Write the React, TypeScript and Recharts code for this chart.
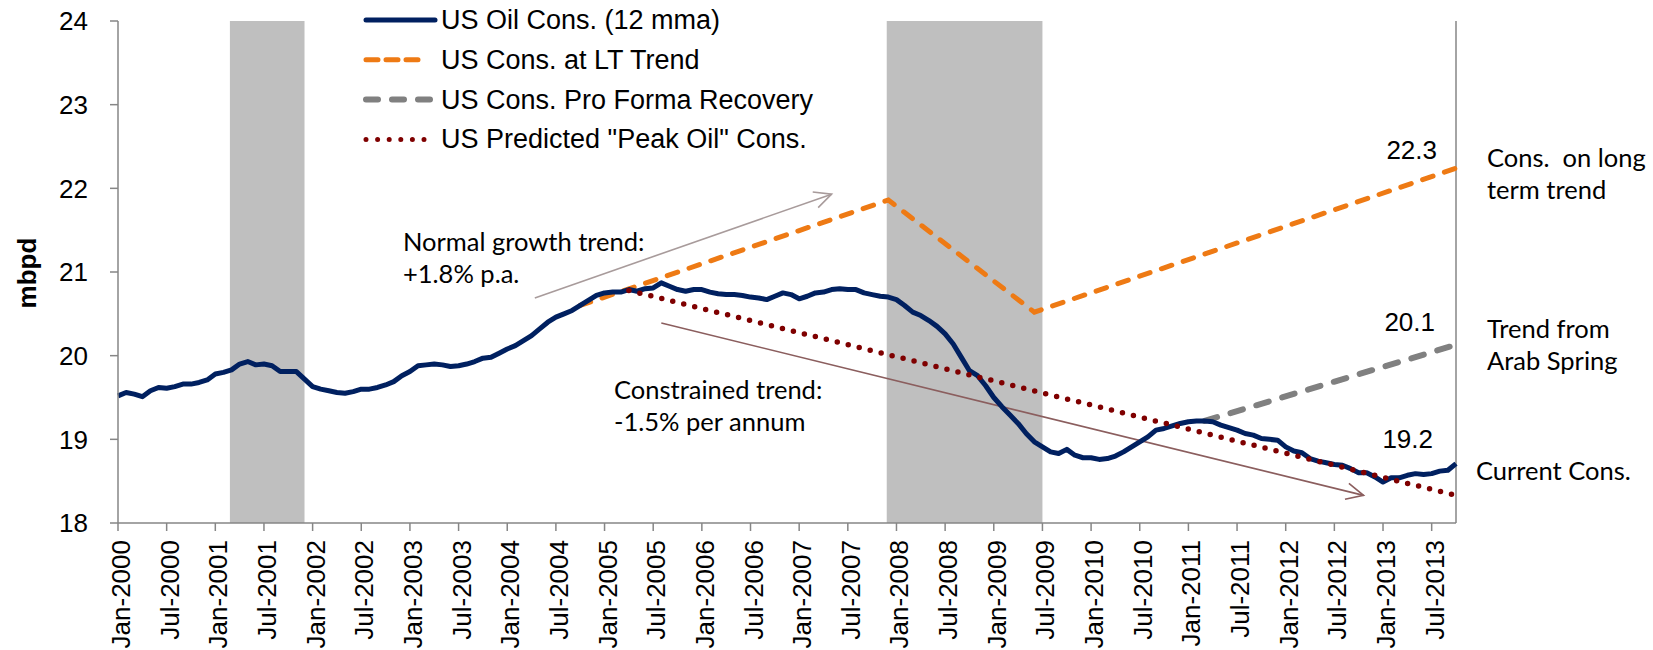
import { LineChart, Line, XAxis, YAxis, ReferenceArea, ReferenceLine, Legend } from "recharts";

// monthly US oil consumption, 12 month moving average, Jan-2000 .. Oct-2013 (mbpd)
const oilCons = [
  19.52, 19.56, 19.54, 19.51, 19.58, 19.62, 19.61, 19.63, 19.66, 19.66, 19.68, 19.71,
  19.78, 19.8, 19.83, 19.9, 19.93, 19.89, 19.9, 19.88, 19.81, 19.81, 19.81, 19.72,
  19.63, 19.6, 19.58, 19.56, 19.55, 19.57, 19.6, 19.6, 19.62, 19.65, 19.69, 19.76,
  19.81, 19.88, 19.89, 19.9, 19.89, 19.87, 19.88, 19.9, 19.93, 19.97, 19.98, 20.03,
  20.08, 20.12, 20.18, 20.24, 20.32, 20.4, 20.46, 20.5, 20.54, 20.6, 20.66, 20.72,
  20.75, 20.76, 20.76, 20.79, 20.77, 20.8, 20.81, 20.87, 20.83, 20.79, 20.77, 20.79,
  20.79, 20.76, 20.74, 20.73, 20.73, 20.72, 20.7, 20.69, 20.67, 20.71, 20.75, 20.73,
  20.68, 20.71, 20.75, 20.76, 20.79, 20.8, 20.79, 20.79, 20.75, 20.73, 20.71, 20.7,
  20.67, 20.6, 20.52, 20.48, 20.42, 20.35, 20.26, 20.14, 19.98, 19.82, 19.76, 19.64,
  19.5, 19.39, 19.29, 19.19, 19.07, 18.97, 18.91, 18.85, 18.83, 18.88, 18.81, 18.78,
  18.78, 18.76, 18.77, 18.8, 18.85, 18.91, 18.97, 19.03, 19.11, 19.13, 19.16, 19.19,
  19.21, 19.22, 19.22, 19.21, 19.17, 19.14, 19.11, 19.07, 19.05, 19.01, 19.0, 18.99,
  18.91, 18.86, 18.84, 18.77, 18.74, 18.72, 18.7, 18.69, 18.65, 18.6, 18.6, 18.55,
  18.49, 18.54, 18.54, 18.57, 18.59, 18.58, 18.59, 18.62, 18.63, 18.71,
];

// [month index, value] vertices of the scenario lines
const ltTrend = [[57, 20.6], [95, 21.86], [113, 20.52], [165, 22.24]];
const proForma = [[134, 19.22], [165, 20.13]];
const peakOil = [[63, 20.78], [165, 18.33]];

const recessions = [[13.8, 23], [94.8, 114]];

const xTicks = [0, 6, 12, 18, 24, 30, 36, 42, 48, 54, 60, 66, 72, 78, 84, 90, 96, 102, 108, 114, 120, 126, 132, 138, 144, 150, 156, 162];
const xTickLabels = [
  "Jan-2000", "Jul-2000", "Jan-2001", "Jul-2001", "Jan-2002", "Jul-2002", "Jan-2003", "Jul-2003",
  "Jan-2004", "Jul-2004", "Jan-2005", "Jul-2005", "Jan-2006", "Jul-2006", "Jan-2007", "Jul-2007",
  "Jan-2008", "Jul-2008", "Jan-2009", "Jul-2009", "Jan-2010", "Jul-2010", "Jan-2011", "Jul-2011",
  "Jan-2012", "Jul-2012", "Jan-2013", "Jul-2013",
];
const yTicks = [18, 19, 20, 21, 22, 23, 24];

const pick = (pts: number[][], m: number) => {
  const p = pts.find((q) => q[0] === m);
  return p ? p[1] : null;
};

const data = oilCons.map((v, i) => ({
  m: i,
  cons: v,
  lt: pick(ltTrend, i),
  pf: pick(proForma, i),
  peak: pick(peakOil, i),
}));

const ARIAL = "'Liberation Sans', Arial, sans-serif";
const CALIBRI = "Lato, 'Open Sans', sans-serif";
const AXIS = "#868686";

const C_BLUE = "#002060";
const C_ORANGE = "#EE7A14";
const C_GREY = "#808080";
const C_RED = "#7F0000";

const MonthTick = (props: any) => {
  const { x, y, payload } = props;
  const idx = xTicks.indexOf(payload.value);
  const px = x + 3;
  return (
    <text x={px} y={y} transform={`rotate(-90 ${px} ${y})`} textAnchor="end" dominantBaseline="central"
      fontFamily={ARIAL} fontSize={26} fill="#000">
      {xTickLabels[idx]}
    </text>
  );
};

const arrow = (color: string) => (props: any) => {
  const { x1, y1, x2, y2 } = props;
  const a = Math.atan2(y2 - y1, x2 - x1);
  const len = 19;
  const s = 0.45;
  const p1 = `${x2 - len * Math.cos(a - s)},${y2 - len * Math.sin(a - s)}`;
  const p2 = `${x2 - len * Math.cos(a + s)},${y2 - len * Math.sin(a + s)}`;
  return (
    <g>
      <line x1={x1} y1={y1} x2={x2} y2={y2} stroke={color} strokeWidth={1.6} />
      <polyline points={`${p1} ${x2},${y2} ${p2}`} fill="none" stroke={color} strokeWidth={1.6} />
    </g>
  );
};

const legendRows = [
  { label: "US Oil Cons. (12 mma)", color: C_BLUE, width: 5, dash: undefined, end: 75 },
  { label: "US Cons. at LT Trend", color: C_ORANGE, width: 5, dash: "12 8", end: 65 },
  { label: "US Cons. Pro Forma Recovery", color: C_GREY, width: 6, dash: "12 14", end: 75 },
  { label: "US Predicted \"Peak Oil\" Cons.", color: C_RED, width: 5, dash: "0 11.6", end: 66 },
];

const LegendBox = () => (
  <svg width={560} height={160}>
    {legendRows.map((r, i) => {
      const cy = 20 + i * 39.8;
      return (
        <g key={r.label}>
          <line x1={6} y1={cy} x2={r.end} y2={cy} stroke={r.color} strokeWidth={r.width}
            strokeDasharray={r.dash} strokeLinecap="round" />
          <text x={81} y={cy} dominantBaseline="central" fontFamily={ARIAL} fontSize={27} fill="#000">
            {r.label}
          </text>
        </g>
      );
    })}
  </svg>
);

const notes = [
  { x: 403, y: 241, text: "Normal growth trend:", anchor: "start", font: CALIBRI, size: 25.5 },
  { x: 403, y: 273, text: "+1.8% p.a.", anchor: "start", font: CALIBRI, size: 25.5 },
  { x: 614, y: 389, text: "Constrained trend:", anchor: "start", font: CALIBRI, size: 25.5 },
  { x: 614, y: 421, text: "-1.5% per annum", anchor: "start", font: CALIBRI, size: 25.5 },
  { x: 1487, y: 157, text: "Cons.  on long", anchor: "start", font: CALIBRI, size: 25.5 },
  { x: 1487, y: 189, text: "term trend", anchor: "start", font: CALIBRI, size: 25.5 },
  { x: 1487, y: 328, text: "Trend from", anchor: "start", font: CALIBRI, size: 25.5 },
  { x: 1487, y: 360, text: "Arab Spring", anchor: "start", font: CALIBRI, size: 25.5 },
  { x: 1476, y: 470, text: "Current Cons.", anchor: "start", font: CALIBRI, size: 25.5 },
  { x: 1437, y: 150, text: "22.3", anchor: "end", font: ARIAL, size: 26 },
  { x: 1435, y: 322, text: "20.1", anchor: "end", font: ARIAL, size: 26 },
  { x: 1433, y: 439, text: "19.2", anchor: "end", font: ARIAL, size: 26 },
];

export default function App() {
  return (
    <div style={{ position: "absolute", left: 0, top: 0, background: "#fff" }}>
      <LineChart width={1653} height={650} data={data} margin={{ top: 21, right: 197, bottom: 0, left: 0 }}>
        {recessions.map(([a, b]) => (
          <ReferenceArea key={a} x1={a} x2={b} y1={18} y2={24} fill="#BFBFBF" fillOpacity={1} stroke="none" ifOverflow="visible" />
        ))}
        <XAxis dataKey="m" type="number" domain={[0, 165]} ticks={xTicks} interval={0} height={127}
          tick={<MonthTick />} tickSize={8} tickMargin={9}
          axisLine={{ stroke: AXIS, strokeWidth: 1.5 }} tickLine={{ stroke: AXIS, strokeWidth: 1.5 }} />
        <YAxis type="number" domain={[18, 24]} ticks={yTicks} width={118} tickSize={8} tickMargin={22}
          tick={{ fontFamily: ARIAL, fontSize: 26, fill: "#000" }}
          axisLine={{ stroke: AXIS, strokeWidth: 1.5 }} tickLine={{ stroke: AXIS, strokeWidth: 1.5 }} />
        <ReferenceLine x={165} stroke={AXIS} strokeWidth={1.5} />
        <ReferenceLine segment={[{ x: 51.4, y: 20.69 }, { x: 88, y: 21.93 }]} shape={arrow("#A89B9B")} />
        <ReferenceLine segment={[{ x: 67, y: 20.39 }, { x: 153.6, y: 18.33 }]} shape={arrow("#8B5E5E")} />
        <Line dataKey="lt" stroke={C_ORANGE} strokeWidth={5} strokeDasharray="11 12" strokeLinecap="round"
          connectNulls dot={false} isAnimationActive={false} />
        <Line dataKey="pf" stroke={C_GREY} strokeWidth={6} strokeDasharray="13 14" strokeLinecap="round"
          connectNulls dot={false} isAnimationActive={false} />
        <Line dataKey="cons" stroke={C_BLUE} strokeWidth={5} strokeLinejoin="round" dot={false} isAnimationActive={false} />
        <Line dataKey="peak" stroke={C_RED} strokeWidth={5.5} strokeDasharray="0 11.3" strokeLinecap="round"
          connectNulls dot={false} isAnimationActive={false} />
        <Legend layout="vertical" align="center" verticalAlign="middle" content={() => <LegendBox />}
          wrapperStyle={{ top: 0, left: 360, width: 560, height: 160 }} />
        <text x={27} y={273} transform="rotate(-90 27 273)" textAnchor="middle" dominantBaseline="central"
          fontFamily={ARIAL} fontWeight="bold" fontSize={26} fill="#000">mbpd</text>
        {notes.map((n) => (
          <text key={n.text} x={n.x} y={n.y} textAnchor={n.anchor as any} dominantBaseline="central"
            fontFamily={n.font} fontSize={n.size} fill="#000" style={{ whiteSpace: "pre" }}>{n.text}</text>
        ))}
      </LineChart>
    </div>
  );
}
